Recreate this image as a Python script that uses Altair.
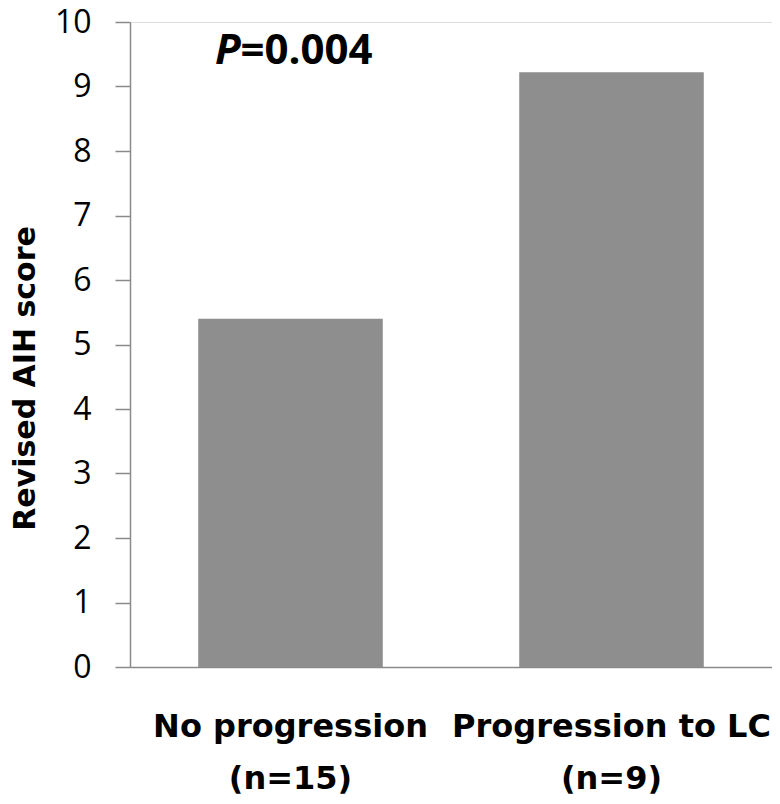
import altair as alt
import pandas as pd

groups = ["No progression", "Progression to LC"]
group_n = ["(n=15)", "(n=9)"]
scores = [5.4, 9.22]
p_label_italic = "P"
p_label_rest = "=0.004"
p_anchor_value = 9.35

df = pd.DataFrame({
    "group": [f"{g}|{n}" for g, n in zip(groups, group_n)],
    "score": scores,
})
ann = pd.DataFrame({"group": [df["group"][0]], "y": [p_anchor_value],
                    "p": [p_label_italic], "rest": [p_label_rest]})

x_enc = alt.X(
    "group:N",
    sort=None,
    scale=alt.Scale(paddingInner=0.425, paddingOuter=0.2125),
    axis=alt.Axis(
        title=None,
        labelAngle=0,
        ticks=False,
        labelExpr="split(datum.label, '|')",
        labelFont="DejaVu Sans",
        labelFontWeight="bold",
        labelFontSize=32,
        labelLineHeight=52,
        labelLimit=0,
        labelColor="black",
        labelPadding=44,
        domainColor="#8a8a8a",
        domainWidth=1.5,
    ),
)

bars = alt.Chart(df).mark_bar(color="#8e8e8e").encode(
    x=x_enc,
    y=alt.Y(
        "score:Q",
        scale=alt.Scale(domain=[0, 10], nice=False),
        axis=alt.Axis(
            title="Revised AIH score",
            values=list(range(0, 11)),
            format="d",
            grid=False,
            tickSize=15,
            tickColor="#8a8a8a",
            tickWidth=1.5,
            domainColor="#8a8a8a",
            domainWidth=1.5,
            labelFont="Open Sans",
            labelFontSize=32,
            labelColor="black",
            labelPadding=24,
            titleFont="DejaVu Sans",
            titleFontWeight="bold",
            titleFontSize=30,
            titleColor="black",
            titleAngle=-90,
            titleBaseline="alphabetic",
            titleAlign="center",
            titleX=-96,
            titleY=356,
        ),
    ),
)

p_italic = alt.Chart(ann).mark_text(
    font="Open Sans", fontSize=42, fontWeight="bold", fontStyle="italic",
    align="right", baseline="alphabetic", dx=-50, color="black",
).encode(x=alt.X("group:N", sort=None), y=alt.Y("y:Q"), text="p:N")

p_rest = alt.Chart(ann).mark_text(
    font="Open Sans", fontSize=42, fontWeight="bold",
    align="left", baseline="alphabetic", dx=-50, color="black",
).encode(x=alt.X("group:N", sort=None), y=alt.Y("y:Q"), text="rest:N")

chart = alt.layer(bars, p_italic, p_rest).properties(
    width=642,
    height=645,
    autosize=alt.AutoSizeParams(type="none"),
    padding={"left": 122, "top": 14, "right": 0, "bottom": 129},
).configure_view(stroke=None).configure(background="white")

chart.save("out.html", embed_options={"renderer": "svg", "actions": False})
